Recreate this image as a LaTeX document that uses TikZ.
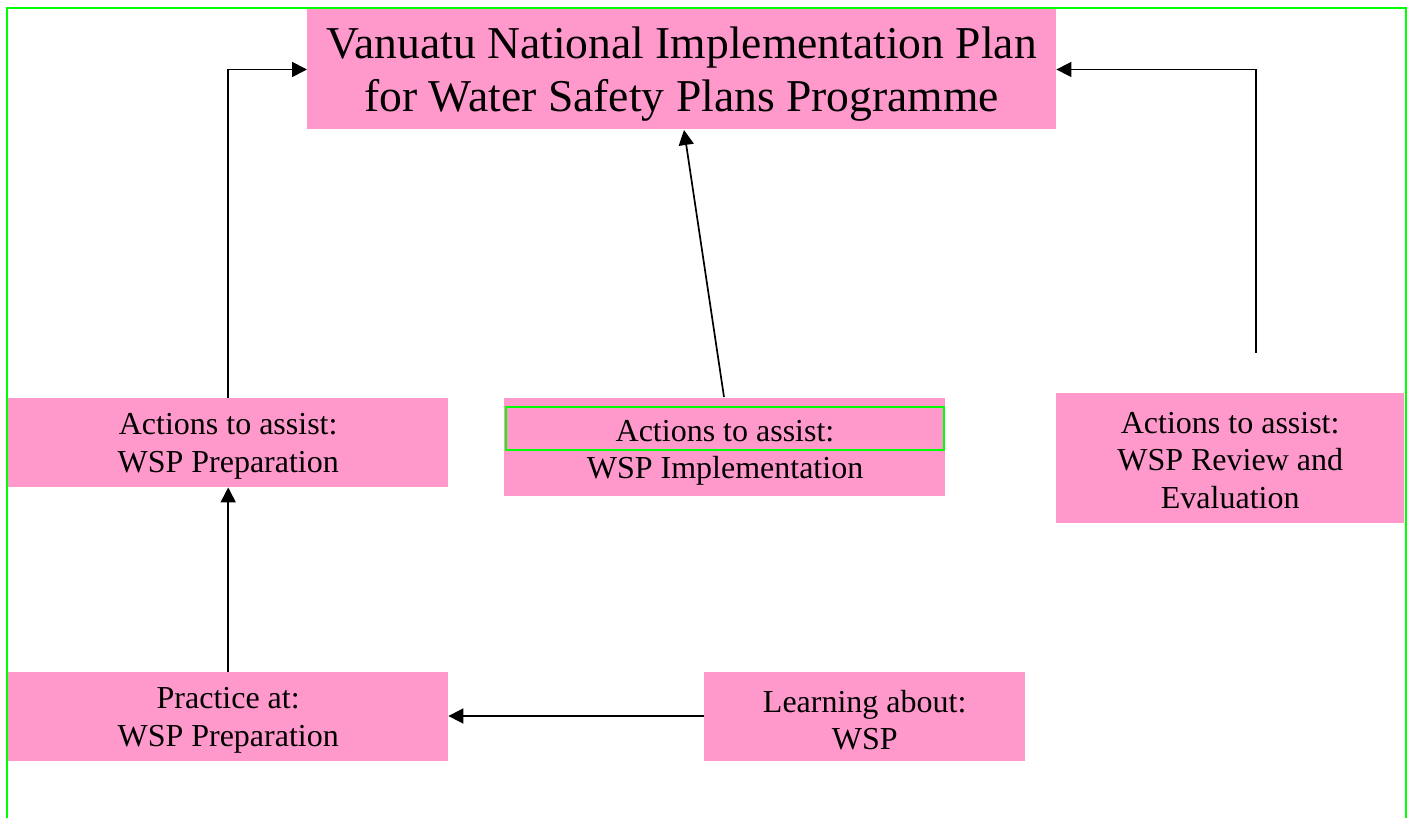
\documentclass[tikz,border=0pt]{standalone}
\usepackage{fontspec}
\setmainfont{Liberation Serif}
\usetikzlibrary{arrows.meta}
\definecolor{pinkc}{HTML}{FF99CC}
\definecolor{greenc}{HTML}{00FF00}
\tikzset{
  box/.style={fill=pinkc, inner sep=0pt, anchor=north west},
  conn/.style={line width=1.7pt, -{Triangle[length=15pt,width=15pt]}},
  txt/.style={inner sep=0pt, align=center, font=\fontsize{32}{37.5}\selectfont},
  titletxt/.style={txt, font=\fontsize{45.6}{53}\selectfont},
}
\begin{document}
\begin{tikzpicture}[x=1pt,y=-1pt]
\useasboundingbox (0,0) rectangle (1407,818);
% boxes
\node[box, minimum width=749pt, minimum height=120pt] (title) at (307,9.3) {};
\node[titletxt] (titleT) at ([yshift=-5pt]title.center)
  {Vanuatu National Implementation Plan\\for Water Safety Plans Programme};
\node[box, minimum width=440pt, minimum height=89pt] (prep) at (8,398) {};
\node[txt] (prepT) at ([yshift=-3.5pt]prep.center) {Actions to assist:\\WSP Preparation};
\node[box, minimum width=441pt, minimum height=98pt] (impl) at (504,398) {};
\node[txt, draw=greenc, line width=1.5pt, minimum width=438pt, minimum height=43pt] (implA) at (725,428.5) {};
\node[txt] (implAT) at (725,431) {Actions to assist:};
\node[txt] (implB) at (725,471) {WSP Implementation};
\node[box, minimum width=348pt, minimum height=130pt] (rev) at (1056,393) {};
\node[txt] (revT) at ([yshift=-2pt]rev.center) {Actions to assist:\\WSP Review and\\Evaluation};
\node[box, minimum width=440pt, minimum height=89pt] (prac) at (8,672) {};
\node[txt] (pracT) at ([yshift=-3.5pt]prac.center) {Practice at:\\WSP Preparation};
\node[box, minimum width=321pt, minimum height=89pt] (learn) at (704,672) {};
\node[txt] (learnT) at ([yshift=-3.5pt]learn.center) {Learning about:\\WSP};
% connectors
\coordinate (revtop) at (1256,353);
\coordinate (impltop) at (724,397);
\coordinate (titlebot) at (684,130);
\draw[conn] (prep.north) |- (title.west |- 0,69.5);
\draw[conn] (revtop) |- (title.east |- 0,69.5);
\draw[conn] (impltop) -- (titlebot);
\draw[conn] (prac.north) -- (prep.south);
\draw[conn] (learn.west |- 0,716) -- (prac.east |- 0,716);
% frame
\draw[greenc, line width=2pt] (7,820) -- (7,8.3) -- (1405.7,8.3) -- (1405.7,820);
\end{tikzpicture}
\end{document}
